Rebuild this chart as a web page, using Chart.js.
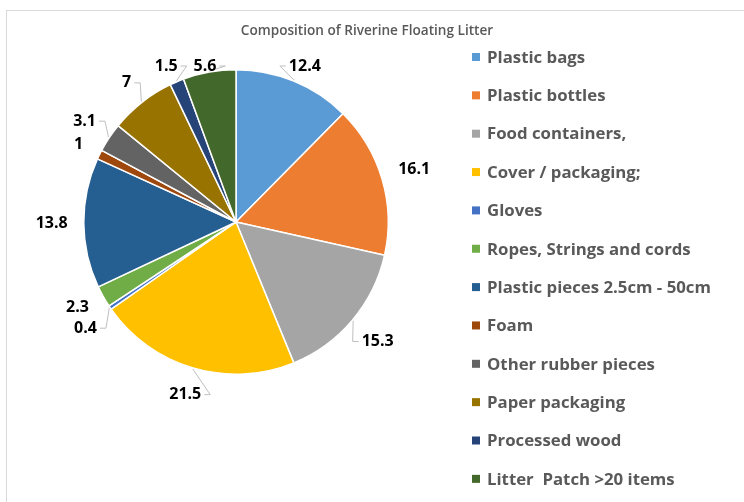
<!DOCTYPE html>
<html>
<head>
<meta charset="utf-8">
<script src="https://cdn.jsdelivr.net/npm/chart.js@4/dist/chart.umd.min.js"></script>
<style>
  body { margin: 0; background: #fff; }
  #wrap { width: 744px; height: 502px; position: relative; }
</style>
</head>
<body>
<div id="wrap"><canvas id="chart" width="744" height="502"></canvas></div>
<script>
const chartTitle = 'Composition of Riverine Floating Litter';
const categories = [
    'Plastic bags', 'Plastic bottles', 'Food containers,', 'Cover / packaging;',
    'Gloves', 'Ropes, Strings and cords', 'Plastic pieces 2.5cm - 50cm', 'Foam',
    'Other rubber pieces', 'Paper packaging', 'Processed wood', 'Litter  Patch >20 items'
];
const values = [12.4, 16.1, 15.3, 21.5, 0.4, 2.3, 13.8, 1, 3.1, 7, 1.5, 5.6];
const colors = [
    '#5B9BD5', '#ED7D31', '#A5A5A5', '#FFC000', '#4472C4', '#70AD47',
    '#255E91', '#9E480E', '#636363', '#997300', '#264478', '#43682B'
];

const textFont = '"Open Sans", Lato, sans-serif';

// frame, title and legend drawn by hand to get the Excel look
const decorPlugin = {
    id: 'decor',
    beforeDraw(chart) {
        const ctx = chart.ctx;
        ctx.save();
        ctx.strokeStyle = '#D9D9D9';
        ctx.lineWidth = 1;
        ctx.strokeRect(6.5, 10.5, 900, 700);
        ctx.fillStyle = '#595959';
        ctx.font = '600 13.6px ' + textFont;
        ctx.textAlign = 'center';
        ctx.textBaseline = 'middle';
        ctx.fillText(chartTitle, 367, 31);

        ctx.font = 'bold 16.8px ' + textFont;
        ctx.textAlign = 'left';
        categories.forEach((name, i) => {
            const y = 57 + i * 38.35;
            ctx.fillStyle = colors[i];
            ctx.fillRect(472, y - 4, 8, 8);
            ctx.fillStyle = '#595959';
            ctx.fillText(name, 487, y + 1);
        });
        ctx.restore();
    }
};

// outside-end value labels with leader lines
const labelPlugin = {
    id: 'valueLabels',
    afterDatasetsDraw(chart) {
        const ctx = chart.ctx;
        const meta = chart.getDatasetMeta(0);
        const topLimit = 66;
        ctx.save();
        ctx.font = 'bold 16px ' + textFont;
        const h = 15;
        const items = meta.data.map((arc, i) => {
            const mid = (arc.startAngle + arc.endAngle) / 2;
            const cos = Math.cos(mid), sin = Math.sin(mid);
            const text = String(values[i]);
            const w = ctx.measureText(text).width;
            const ext = Math.abs(cos) * w / 2 + Math.abs(sin) * h / 2;
            const d = arc.outerRadius + 16 + ext;
            let x = arc.x + cos * d;
            let y = Math.max(arc.y + sin * d, topLimit);
            return { i, text, w, x, y, cos, sin, arc };
        });

        // push overlapping labels apart vertically
        const cx = meta.data[0].x;
        [items.filter(o => o.x < cx), items.filter(o => o.x >= cx)].forEach(side => {
            side.sort((a, b) => a.y - b.y);
            for (let pass = 0; pass < 20; pass++) {
                for (let k = 1; k < side.length; k++) {
                    const a = side[k - 1], b = side[k];
                    const overlapX = Math.abs(a.x - b.x) < (a.w + b.w) / 2 + 4;
                    const gap = b.y - a.y;
                    if (overlapX && gap < 21) {
                        const push = (21 - gap) / 2;
                        a.y -= push;
                        b.y += push;
                        if (a.y < topLimit) { b.y += topLimit - a.y; a.y = topLimit; }
                    }
                }
            }
        });

        items.forEach(o => {
            const arc = o.arc;
            const px = arc.x + o.cos * (arc.outerRadius + 1);
            const py = arc.y + o.sin * (arc.outerRadius + 1);
            const right = o.x >= arc.x;
            const ex = right ? o.x - o.w / 2 - 3 : o.x + o.w / 2 + 3;
            const tx = right ? ex - 6 : ex + 6;
            const dist = Math.hypot(tx - px, o.y - py);
            if (dist > 12) {
                ctx.strokeStyle = '#BFBFBF';
                ctx.lineWidth = 1;
                ctx.beginPath();
                ctx.moveTo(px, py);
                ctx.lineTo(tx, o.y);
                ctx.lineTo(ex, o.y);
                ctx.stroke();
            }
            ctx.fillStyle = '#000';
            ctx.textAlign = 'center';
            ctx.textBaseline = 'middle';
            ctx.fillText(o.text, o.x, o.y);
        });
        ctx.restore();
    }
};

new Chart(document.getElementById('chart'), {
    type: 'pie',
    data: {
        labels: categories,
        datasets: [{
            data: values,
            backgroundColor: colors,
            borderColor: '#FFFFFF',
            borderWidth: 1.5
        }]
    },
    options: {
        responsive: false,
        animation: false,
        layout: { padding: { left: 83, top: 69, right: 355, bottom: 127 } },
        plugins: {
            legend: { display: false },
            title: { display: false },
            tooltip: { enabled: false }
        }
    },
    plugins: [decorPlugin, labelPlugin]
});
</script>
</body>
</html>
